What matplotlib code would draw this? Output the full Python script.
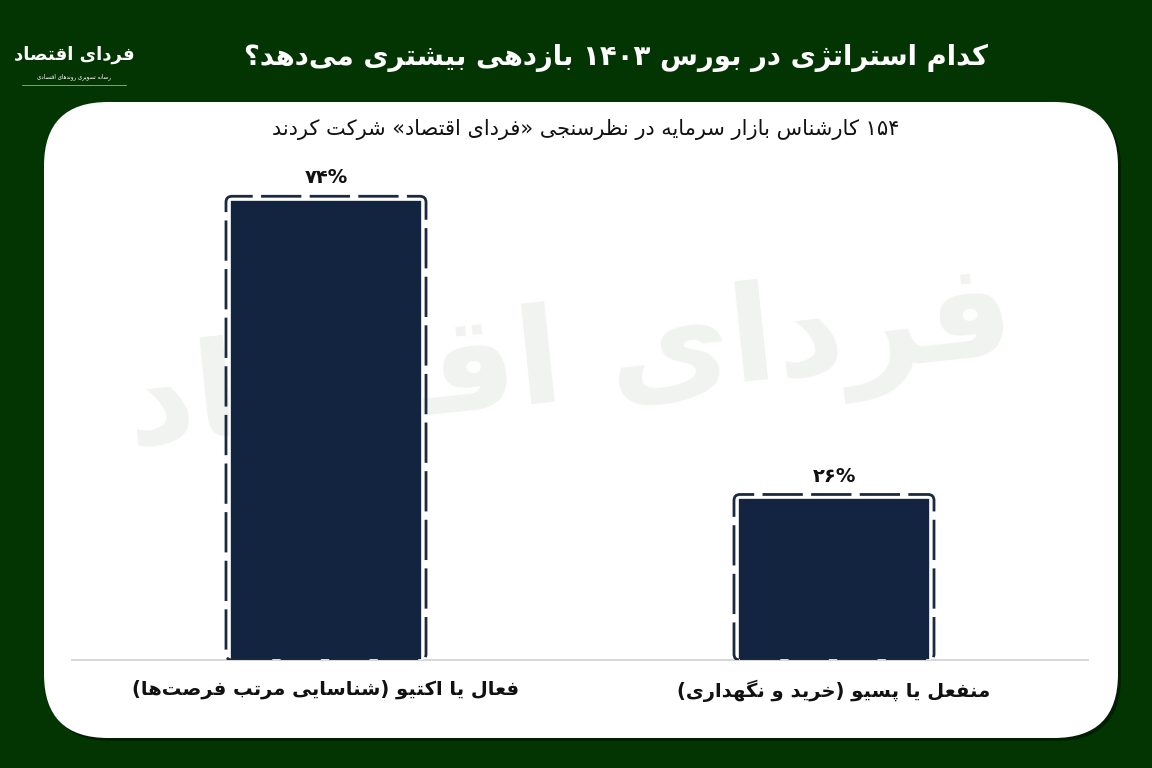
import re
import numpy as np
import matplotlib.pyplot as plt
from matplotlib.patches import FancyBboxPatch

plt.rcParams['font.family'] = ['DejaVu Sans']

# داده‌ها
categories = ['فعال یا اکتیو (شناسایی مرتب فرصت‌ها)', 'منفعل یا پسیو (خرید و نگهداری)']
values = [74, 26]
value_labels = ['۷۴%', '۲۶%']
title = 'کدام استراتژی در بورس ۱۴۰۳ بازدهی بیشتری می‌دهد؟'
subtitle = '۱۵۴ کارشناس بازار سرمایه در نظرسنجی «فردای اقتصاد» شرکت کردند'
brand = 'فردای اقتصاد'
brand_sub = 'رسانه تصویری روندهای اقتصادی'

green = '#033503'
navy = '#12243f'

# matplotlib has no arabic shaping, so pick presentation forms by hand
# (isolated, final, initial, medial)
FORMS = {
    'ا': (0xFE8D, 0xFE8E, None, None), 'آ': (0xFE81, 0xFE82, None, None),
    'ب': (0xFE8F, 0xFE90, 0xFE91, 0xFE92), 'پ': (0xFB56, 0xFB57, 0xFB58, 0xFB59),
    'ت': (0xFE95, 0xFE96, 0xFE97, 0xFE98), 'ث': (0xFE99, 0xFE9A, 0xFE9B, 0xFE9C),
    'ج': (0xFE9D, 0xFE9E, 0xFE9F, 0xFEA0), 'چ': (0xFB7A, 0xFB7B, 0xFB7C, 0xFB7D),
    'ح': (0xFEA1, 0xFEA2, 0xFEA3, 0xFEA4), 'خ': (0xFEA5, 0xFEA6, 0xFEA7, 0xFEA8),
    'د': (0xFEA9, 0xFEAA, None, None), 'ذ': (0xFEAB, 0xFEAC, None, None),
    'ر': (0xFEAD, 0xFEAE, None, None), 'ز': (0xFEAF, 0xFEB0, None, None),
    'ژ': (0xFB8A, 0xFB8B, None, None),
    'س': (0xFEB1, 0xFEB2, 0xFEB3, 0xFEB4), 'ش': (0xFEB5, 0xFEB6, 0xFEB7, 0xFEB8),
    'ص': (0xFEB9, 0xFEBA, 0xFEBB, 0xFEBC), 'ض': (0xFEBD, 0xFEBE, 0xFEBF, 0xFEC0),
    'ط': (0xFEC1, 0xFEC2, 0xFEC3, 0xFEC4), 'ظ': (0xFEC5, 0xFEC6, 0xFEC7, 0xFEC8),
    'ع': (0xFEC9, 0xFECA, 0xFECB, 0xFECC), 'غ': (0xFECD, 0xFECE, 0xFECF, 0xFED0),
    'ف': (0xFED1, 0xFED2, 0xFED3, 0xFED4), 'ق': (0xFED5, 0xFED6, 0xFED7, 0xFED8),
    'ک': (0xFB8E, 0xFB8F, 0xFB90, 0xFB91), 'گ': (0xFB92, 0xFB93, 0xFB94, 0xFB95),
    'ل': (0xFEDD, 0xFEDE, 0xFEDF, 0xFEE0), 'م': (0xFEE1, 0xFEE2, 0xFEE3, 0xFEE4),
    'ن': (0xFEE5, 0xFEE6, 0xFEE7, 0xFEE8), 'و': (0xFEED, 0xFEEE, None, None),
    'ه': (0xFEE9, 0xFEEA, 0xFEEB, 0xFEEC), 'ی': (0xFBFC, 0xFBFD, 0xFBFE, 0xFBFF),
    'ئ': (0xFE89, 0xFE8A, 0xFE8B, 0xFE8C),
}
MIRROR = {'(': ')', ')': '(', '«': '»', '»': '«'}


def fa(text):
    out = []
    for i, c in enumerate(text):
        if c not in FORMS:
            if c != '\u200c':
                out.append(c)
            continue
        prev = text[i - 1] if i > 0 else ''
        nxt = text[i + 1] if i + 1 < len(text) else ''
        jp = prev in FORMS and FORMS[prev][2] is not None
        jn = FORMS[c][2] is not None and nxt in FORMS
        iso, fin, ini, med = FORMS[c]
        if jp and jn:
            code = med
        elif jp:
            code = fin
        elif jn:
            code = ini
        else:
            code = iso
        out.append(chr(code))
    s = ''.join(out)
    # visual order: reverse, but keep number runs left to right
    runs = re.findall(r'[0-9۰-۹%]+|[^0-9۰-۹%]+', s)
    vis = []
    for r in runs[::-1]:
        if re.match(r'[0-9۰-۹%]', r):
            vis.append(r)
        else:
            vis.append(''.join(MIRROR.get(ch, ch) for ch in r[::-1]))
    return ''.join(vis)


fig = plt.figure(figsize=(11.52, 7.68), dpi=100, facecolor=green)

# background layer in pixel units
bg = fig.add_axes([0, 0, 1, 1])
bg.set_xlim(0, 1152)
bg.set_ylim(768, 0)
bg.axis('off')
bg.add_patch(FancyBboxPatch((47, 105), 1074, 636, boxstyle='round,pad=0,rounding_size=64',
                            fc='#011a01', ec='none', alpha=0.8))
panel = FancyBboxPatch((44, 102), 1074, 636, boxstyle='round,pad=0,rounding_size=64',
                       fc='white', ec='none')
bg.add_patch(panel)

# watermark
wm = bg.text(570, 365, fa(brand), fontsize=96, fontweight='bold', color='#f1f3f0',
             ha='center', va='center', rotation=6)
wm.set_clip_path(panel)

# header
bg.text(988, 58, fa(title), fontsize=19.8, fontweight='bold', color='white', ha='right', va='center')
bg.text(74, 55, fa(brand), fontsize=13, fontweight='bold', color='white', ha='center', va='center')
bg.text(74, 77, fa(brand_sub), fontsize=4, color='white', ha='center', va='center')
bg.plot([22, 126], [85, 85], color='#9aa89a', lw=0.6)
bg.text(586, 130, fa(subtitle), fontsize=15, color='#111111', ha='center', va='center')

# chart
ax = fig.add_axes([72 / 1152, 108 / 768, 1016 / 1152, 497 / 768])
ax.patch.set_visible(False)
x = np.arange(len(values))
ax.set_xlim(-0.5, 1.5)
ax.set_ylim(0, 80)

bars = ax.bar(x, values, width=0.378, color=navy, edgecolor='white', linewidth=1.2, zorder=3)

# dashed rounded outline around each bar
fig.canvas.draw()
px_x = ax.transData.transform((1, 0))[0] - ax.transData.transform((0, 0))[0]
px_y = ax.transData.transform((0, 1))[1] - ax.transData.transform((0, 0))[1]
aspect = px_x / px_y
padx = 4 / px_x
pady = 4 / px_y
for p in bars:
    ax.add_patch(FancyBboxPatch((p.get_x() - padx, 0), p.get_width() + 2 * padx, p.get_height() + pady,
                                boxstyle='round,pad=0,rounding_size=%f' % (6 / px_x),
                                mutation_aspect=aspect, fill=False, ec='#1b2a40', lw=2,
                                linestyle=(0, (14.5, 3.0)), zorder=4))

for xi, v, lab in zip(x, values, value_labels):
    ax.text(xi, v + 3.6, lab, ha='center', va='center', fontsize=14, fontweight='bold', color='#111111')

for s in ['top', 'left', 'right']:
    ax.spines[s].set_visible(False)
ax.spines['bottom'].set_color('#d3d3d3')
ax.spines['bottom'].set_linewidth(1.3)
ax.set_yticks([])
ax.set_xticks(x)
ax.set_xticklabels([fa(c) for c in categories], fontsize=14, fontweight='bold', color='#111111')
ax.tick_params(axis='x', length=0, pad=14)

fig.savefig('out.png', dpi=100, facecolor=green)
